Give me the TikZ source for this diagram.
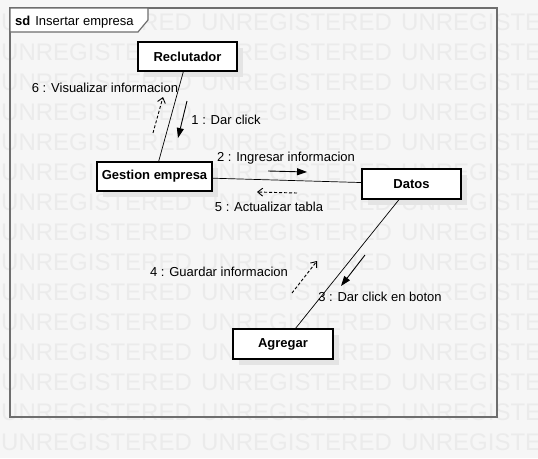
\documentclass[tikz,border=0pt]{standalone}
\usepackage{fontspec}
\setmainfont{Liberation Sans}
\usetikzlibrary{arrows.meta,shadows}
\definecolor{bgc}{HTML}{F6F6F6}
\definecolor{wmc}{HTML}{EBEBEB}
\definecolor{framec}{HTML}{6E6E6E}
\definecolor{shadowc}{HTML}{E4E4E4}
\begin{document}
\begin{tikzpicture}[x=1pt,y=-1pt,
  objbox/.style={draw=black, line width=1.1pt, fill=white, inner sep=0pt,
    font=\fontsize{13}{15}\selectfont\bfseries,
    drop shadow={shadow xshift=6pt, shadow yshift=-6pt, fill=shadowc, opacity=1}},
  lbl/.style={font=\fontsize{13}{15}\selectfont, inner sep=0pt},
  wm/.style={font=\fontsize{24}{28}\selectfont, text=wmc, inner sep=0pt, anchor=base west},
  link/.style={draw=black, line width=0.7pt},
  msg/.style={draw=black, line width=0.9pt, -{Triangle[length=10pt,width=7pt]}},
  rmsg/.style={draw=black, line width=0.9pt, dashed, dash pattern=on 3pt off 2pt, -{Straight Barb[length=5pt,width=8pt]}}]
\useasboundingbox (0,0) rectangle (538,458);
\fill[bgc] (0,0) rectangle (538,458);
% watermark
\foreach \r in {0,...,14}{
  \foreach \c in {0,1,2}{
    \node[wm] (wm-\r-\c) at ({1+200*\c},{30+30*\r}) {UNREGISTERED};
  }
}
% frame
\draw[framec, line width=1.6pt] (10,8) rectangle (497,417);
\draw[framec, line width=1.2pt, fill=white] (10,8) -- (148,8) -- (148,20) -- (138,32) -- (10,32) -- cycle;
\node[lbl, anchor=base west] (sdt) at (15,25) {\textbf{sd}\hspace{5pt}Insertar empresa};
% objects
\node[objbox, minimum width=99pt, minimum height=29pt] (rec) at (187.5,56.5) {Reclutador};
\node[objbox, minimum width=115pt, minimum height=29pt] (ges) at (154.5,176.5) {Gestion empresa};
\node[objbox, minimum width=99pt, minimum height=30pt] (dat) at (411.5,184) {Datos};
\node[objbox, minimum width=100pt, minimum height=30pt] (agr) at (283,344) {Agregar};
% links
\draw[link] (rec) -- (ges);
\draw[link] (ges) -- (dat);
\draw[link] (dat) -- (agr);
% message coordinates
\coordinate (m1a) at (187,101); \coordinate (m1b) at (178,138);
\coordinate (m6a) at (153,133); \coordinate (m6b) at (163,97);
\coordinate (m2a) at (268,171); \coordinate (m2b) at (307,172);
\coordinate (m5a) at (297,193); \coordinate (m5b) at (257,192);
\coordinate (m3a) at (365,255); \coordinate (m3b) at (341,286);
\coordinate (m4a) at (292,293); \coordinate (m4b) at (317,261);
\draw[msg] (m1a) -- (m1b);
\draw[rmsg] (m6a) -- (m6b);
\draw[msg] (m2a) -- (m2b);
\draw[rmsg] (m5a) -- (m5b);
\draw[msg] (m3a) -- (m3b);
\draw[rmsg] (m4a) -- (m4b);
% labels
\node[lbl] (l6) at (105,88) {6 : Visualizar informacion};
\node[lbl] (l1) at (226,120) {1 : Dar click};
\node[lbl] (l2) at (286,158) {2 : Ingresar informacion};
\node[lbl] (l5) at (269,207) {5 : Actualizar tabla};
\node[lbl] (l4) at (219,272) {4 : Guardar informacion};
\node[lbl] (l3) at (380,297) {3 : Dar click en boton};
\end{tikzpicture}
\end{document}
